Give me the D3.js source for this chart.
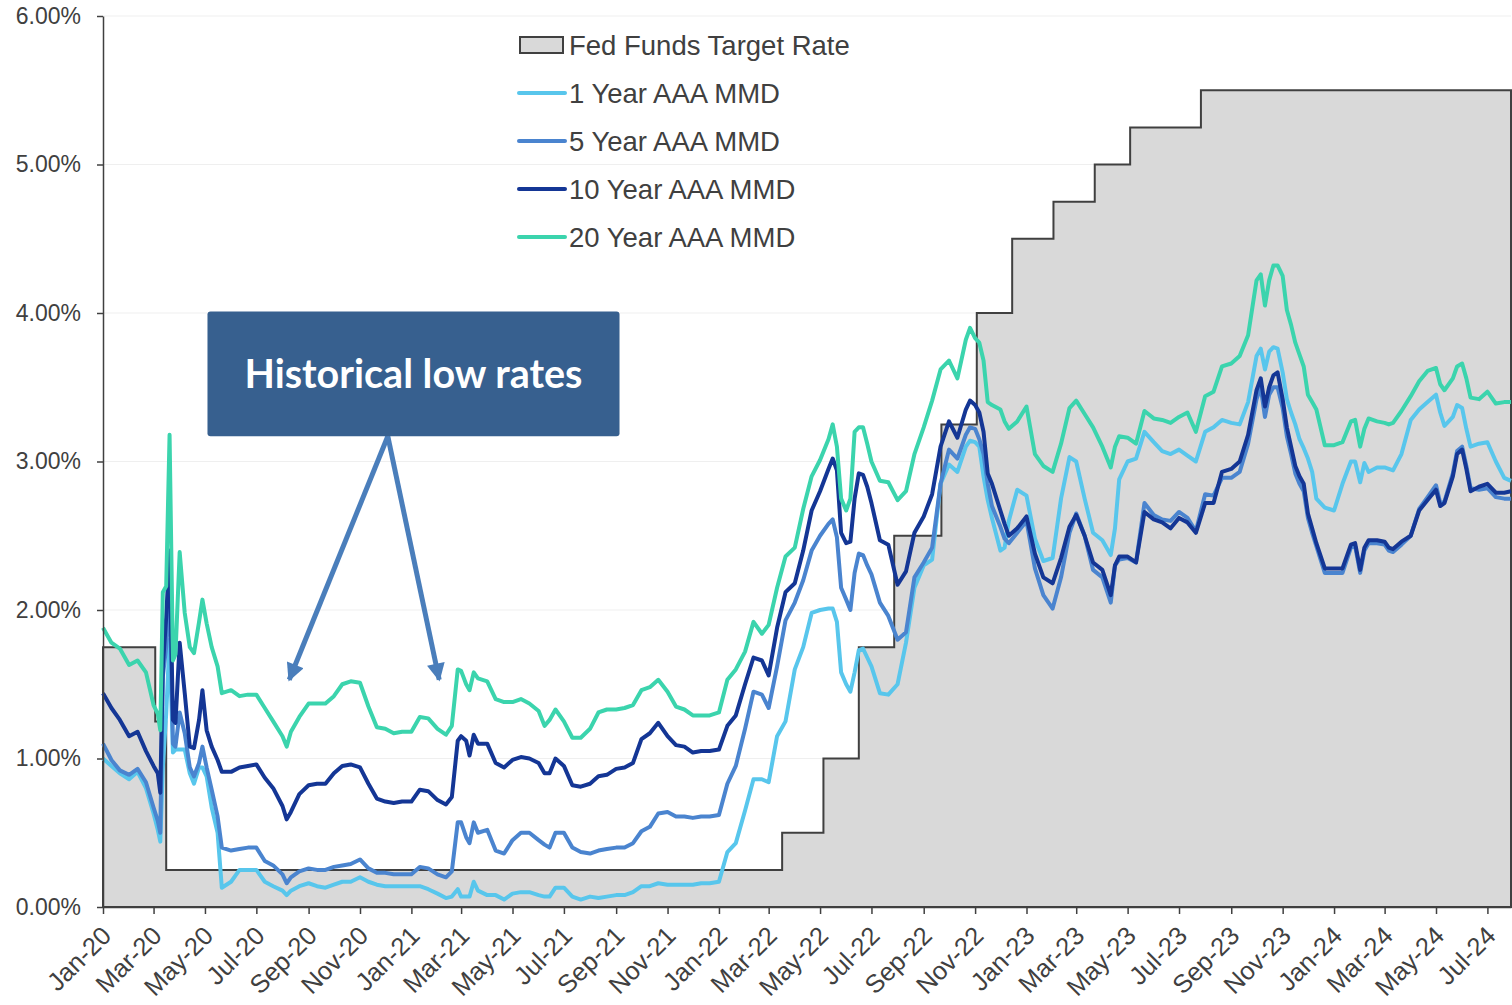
<!DOCTYPE html>
<html>
<head>
<meta charset="utf-8">
<script src="https://cdn.jsdelivr.net/npm/d3@7"></script>
<style>
  body { margin: 0; background: #fff; }
  svg text { font-family: "Liberation Sans", Arial, sans-serif; fill: #404040; }
</style>
</head>
<body>
<svg id="chart"></svg>
<script>
// observation dates shared by the four MMD curves
const dates = [
  "2020-01-01","2020-01-11","2020-01-21","2020-02-01","2020-02-11","2020-02-21","2020-03-01","2020-03-06","2020-03-09","2020-03-12",
  "2020-03-16","2020-03-20","2020-03-24","2020-03-27","2020-04-01","2020-04-07","2020-04-13","2020-04-18","2020-04-24","2020-04-28",
  "2020-05-03","2020-05-09","2020-05-16","2020-05-21","2020-06-01","2020-06-11","2020-06-21","2020-07-01","2020-07-11","2020-07-21",
  "2020-08-01","2020-08-06","2020-08-11","2020-08-21","2020-09-01","2020-09-11","2020-09-21","2020-10-01","2020-10-11","2020-10-21",
  "2020-11-01","2020-11-11","2020-11-21","2020-12-01","2020-12-11","2020-12-21",
  "2021-01-01","2021-01-11","2021-01-21","2021-02-01","2021-02-11","2021-02-18","2021-02-25","2021-03-01","2021-03-07","2021-03-11",
  "2021-03-16","2021-03-21","2021-04-01","2021-04-11","2021-04-21","2021-05-01","2021-05-11","2021-05-21","2021-06-01","2021-06-08",
  "2021-06-14","2021-06-21","2021-07-01","2021-07-11","2021-07-21","2021-08-01","2021-08-11","2021-08-21","2021-09-01","2021-09-11",
  "2021-09-21","2021-10-01","2021-10-11","2021-10-21","2021-11-01","2021-11-11","2021-11-21","2021-12-01","2021-12-11","2021-12-21",
  "2022-01-01","2022-01-11","2022-01-21","2022-02-01","2022-02-11","2022-02-21","2022-03-01","2022-03-11","2022-03-21","2022-04-01",
  "2022-04-11","2022-04-21","2022-05-01","2022-05-11","2022-05-16","2022-05-21","2022-05-26","2022-06-01","2022-06-06","2022-06-11",
  "2022-06-16","2022-06-21","2022-06-26","2022-07-01","2022-07-11","2022-07-21","2022-08-01","2022-08-11","2022-08-21","2022-09-01",
  "2022-09-11","2022-09-21","2022-10-01","2022-10-11","2022-10-21","2022-10-26","2022-11-01","2022-11-06","2022-11-11","2022-11-16",
  "2022-11-21","2022-12-01","2022-12-06","2022-12-11","2022-12-21",
  "2023-01-01","2023-01-11","2023-01-21","2023-02-01","2023-02-11","2023-02-21","2023-03-01","2023-03-11","2023-03-21","2023-04-01",
  "2023-04-11","2023-04-16","2023-04-21","2023-05-01","2023-05-11","2023-05-21","2023-06-01","2023-06-11","2023-06-21","2023-07-01",
  "2023-07-11","2023-07-21","2023-08-01","2023-08-11","2023-08-21","2023-09-01","2023-09-11","2023-09-21","2023-10-01","2023-10-06",
  "2023-10-11","2023-10-16","2023-10-21","2023-10-26","2023-11-01","2023-11-06","2023-11-11","2023-11-16","2023-11-21","2023-11-26",
  "2023-12-01","2023-12-06","2023-12-11","2023-12-21",
  "2024-01-01","2024-01-11","2024-01-21","2024-01-26","2024-02-01","2024-02-06","2024-02-11","2024-02-21","2024-03-01","2024-03-06",
  "2024-03-11","2024-03-21","2024-04-01","2024-04-11","2024-04-21","2024-05-01","2024-05-06","2024-05-11","2024-05-21","2024-05-26",
  "2024-06-01","2024-06-06","2024-06-11","2024-06-21","2024-07-01","2024-07-11","2024-07-21","2024-07-29"
];

// yields in percent, one value per date above
const mmd1y = [
  1.00,0.95,0.90,0.86,0.91,0.80,0.63,0.52,0.44,0.94,1.30,1.80,1.04,1.06,1.06,1.06,0.90,0.83,0.94,0.94,
  0.88,0.67,0.50,0.13,0.17,0.25,0.25,0.25,0.17,0.14,0.11,0.08,0.11,0.14,0.16,0.14,0.13,0.15,0.17,0.17,
  0.20,0.17,0.15,0.14,0.14,0.14,
  0.14,0.14,0.12,0.09,0.06,0.07,0.12,0.07,0.07,0.07,0.17,0.11,0.08,0.08,0.05,0.09,0.10,0.10,0.08,0.07,
  0.07,0.13,0.13,0.07,0.05,0.07,0.06,0.07,0.08,0.08,0.10,0.14,0.14,0.16,0.15,0.15,0.15,0.15,0.16,0.16,
  0.17,0.37,0.43,0.65,0.86,0.86,0.84,1.15,1.25,1.60,1.75,1.98,2.00,2.01,2.01,1.92,1.58,1.50,1.45,1.58,
  1.73,1.74,1.68,1.62,1.44,1.43,1.50,1.78,2.15,2.30,2.34,2.85,2.98,2.93,3.10,3.14,3.13,3.10,2.90,2.74,
  2.62,2.40,2.42,2.60,2.81,
  2.77,2.48,2.33,2.35,2.75,3.03,3.00,2.75,2.52,2.47,2.37,2.55,2.88,3.00,3.02,3.20,3.13,3.07,3.05,3.08,
  3.04,3.00,3.20,3.23,3.28,3.26,3.25,3.40,3.71,3.76,3.62,3.74,3.77,3.76,3.60,3.42,3.33,3.25,3.15,3.09,
  3.02,2.93,2.75,2.69,
  2.67,2.85,3.00,3.00,2.86,2.99,2.93,2.96,2.96,2.95,2.94,3.05,3.28,3.35,3.40,3.45,3.33,3.24,3.30,3.38,
  3.36,3.22,3.10,3.12,3.13,3.00,2.89,2.87
];

const mmd5y = [
  1.10,0.99,0.92,0.89,0.93,0.84,0.67,0.58,0.50,1.55,1.75,2.22,1.10,1.08,1.31,1.17,0.94,0.88,0.97,1.08,
  0.94,0.79,0.61,0.40,0.38,0.39,0.40,0.40,0.31,0.28,0.22,0.16,0.20,0.24,0.26,0.25,0.25,0.27,0.28,0.29,
  0.32,0.26,0.23,0.23,0.22,0.22,
  0.22,0.27,0.26,0.22,0.20,0.24,0.57,0.57,0.47,0.43,0.57,0.50,0.52,0.38,0.36,0.45,0.50,0.50,0.45,0.42,
  0.40,0.50,0.50,0.40,0.37,0.36,0.38,0.39,0.40,0.40,0.43,0.51,0.54,0.63,0.64,0.61,0.61,0.60,0.61,0.61,
  0.62,0.83,0.95,1.20,1.45,1.43,1.34,1.62,1.93,2.05,2.20,2.40,2.50,2.58,2.61,2.49,2.15,2.07,2.00,2.25,
  2.38,2.37,2.30,2.24,2.05,1.96,1.80,1.85,2.22,2.32,2.42,2.85,3.08,3.02,3.18,3.23,3.22,3.15,3.05,2.85,
  2.70,2.56,2.48,2.45,2.52,
  2.60,2.28,2.10,2.01,2.22,2.52,2.65,2.50,2.27,2.22,2.05,2.30,2.34,2.35,2.32,2.72,2.64,2.61,2.60,2.66,
  2.62,2.53,2.78,2.77,2.89,2.89,2.93,3.12,3.42,3.50,3.30,3.45,3.50,3.50,3.36,3.17,3.05,2.92,2.85,2.80,
  2.62,2.52,2.43,2.25,
  2.25,2.25,2.42,2.43,2.25,2.40,2.45,2.45,2.44,2.40,2.39,2.44,2.50,2.68,2.76,2.84,2.72,2.73,2.92,3.07,
  3.10,2.97,2.82,2.81,2.82,2.76,2.75,2.75
];

const mmd10y = [
  1.44,1.34,1.26,1.15,1.18,1.05,0.95,0.90,0.77,1.62,1.95,2.40,1.26,1.24,1.78,1.44,1.08,1.07,1.26,1.46,
  1.19,1.08,0.99,0.91,0.91,0.94,0.95,0.96,0.87,0.80,0.68,0.59,0.64,0.76,0.82,0.83,0.83,0.90,0.95,0.96,
  0.94,0.83,0.73,0.71,0.70,0.71,
  0.71,0.79,0.78,0.72,0.69,0.74,1.12,1.15,1.12,1.02,1.16,1.10,1.10,0.97,0.94,0.99,1.01,1.00,0.97,0.90,
  0.90,1.00,0.95,0.82,0.81,0.83,0.88,0.89,0.93,0.94,0.97,1.13,1.17,1.24,1.15,1.09,1.08,1.04,1.05,1.05,
  1.06,1.22,1.29,1.50,1.68,1.66,1.56,1.88,2.12,2.18,2.40,2.67,2.80,2.95,3.02,2.94,2.52,2.45,2.46,2.75,
  2.92,2.91,2.83,2.72,2.47,2.44,2.17,2.26,2.52,2.63,2.78,3.10,3.27,3.16,3.35,3.41,3.38,3.33,3.20,2.92,
  2.85,2.67,2.58,2.50,2.55,
  2.63,2.38,2.22,2.18,2.35,2.56,2.64,2.50,2.32,2.27,2.10,2.30,2.36,2.36,2.32,2.66,2.61,2.59,2.55,2.62,
  2.59,2.52,2.72,2.72,2.93,2.95,3.00,3.18,3.48,3.56,3.37,3.50,3.58,3.60,3.42,3.23,3.10,2.97,2.90,2.85,
  2.65,2.55,2.45,2.28,
  2.28,2.28,2.44,2.45,2.27,2.42,2.47,2.47,2.46,2.42,2.41,2.46,2.50,2.67,2.74,2.81,2.70,2.72,2.90,3.05,
  3.08,2.95,2.80,2.83,2.85,2.79,2.79,2.80
];

const mmd20y = [
  1.88,1.78,1.74,1.63,1.66,1.58,1.36,1.30,1.19,2.12,2.16,3.18,1.66,1.70,2.39,1.98,1.75,1.71,1.92,2.07,
  1.91,1.75,1.62,1.44,1.46,1.42,1.43,1.43,1.34,1.25,1.15,1.08,1.18,1.28,1.37,1.37,1.37,1.42,1.50,1.52,
  1.51,1.35,1.21,1.20,1.17,1.18,
  1.18,1.28,1.27,1.20,1.16,1.22,1.60,1.59,1.50,1.46,1.58,1.54,1.52,1.40,1.38,1.38,1.40,1.37,1.32,1.22,
  1.26,1.33,1.25,1.14,1.14,1.20,1.31,1.33,1.33,1.34,1.36,1.46,1.48,1.53,1.45,1.35,1.33,1.29,1.29,1.29,
  1.31,1.53,1.60,1.72,1.92,1.84,1.90,2.15,2.36,2.42,2.68,2.90,3.01,3.15,3.25,3.10,2.75,2.67,2.75,3.20,
  3.23,3.23,3.12,3.00,2.87,2.86,2.74,2.80,3.05,3.23,3.41,3.62,3.68,3.56,3.82,3.90,3.83,3.80,3.68,3.40,
  3.38,3.35,3.27,3.22,3.27,
  3.37,3.05,2.97,2.93,3.12,3.36,3.41,3.32,3.23,3.10,2.96,3.10,3.17,3.16,3.12,3.34,3.29,3.28,3.26,3.30,
  3.33,3.20,3.44,3.47,3.64,3.66,3.71,3.85,4.22,4.26,4.05,4.22,4.32,4.32,4.25,4.02,3.92,3.80,3.72,3.64,
  3.45,3.40,3.35,3.11,
  3.11,3.13,3.27,3.28,3.10,3.22,3.29,3.27,3.26,3.25,3.26,3.34,3.44,3.54,3.61,3.63,3.52,3.48,3.56,3.64,
  3.66,3.56,3.43,3.42,3.47,3.39,3.40,3.40
];

// fed funds target (upper bound), each value holds until the next date
const fedDates = [
  "2020-01-01","2020-03-03","2020-03-16","2022-03-17","2022-05-05","2022-06-16","2022-07-28",
  "2022-09-22","2022-11-03","2022-12-15","2023-02-02","2023-03-23","2023-05-04","2023-07-27","2024-07-29"
];
const fedRate = [1.75, 1.25, 0.25, 0.50, 1.00, 1.75, 2.50, 3.25, 4.00, 4.50, 4.75, 5.00, 5.25, 5.50, 5.50];

const yTicks = [0, 1, 2, 3, 4, 5, 6];

const seriesNames = ["1 Year AAA MMD", "5 Year AAA MMD", "10 Year AAA MMD", "20 Year AAA MMD"];
const seriesValues = [mmd1y, mmd5y, mmd10y, mmd20y];
const seriesColors = ["#58c6ec", "#4a84cf", "#143695", "#3bd4ad"];

// callout box and the two points its arrows reach for
const calloutText = "Historical low rates";
const calloutSpan = ["2020-05-04", "2021-09-05"];
const calloutRange = [4.01, 3.17];
const arrowFrom = ["2020-12-04", 3.17];
const arrowTargets = [["2020-08-09", 1.53], ["2021-02-03", 1.53]];

const width = 1512;
const height = 1005;
const parse = d3.timeParse("%Y-%m-%d");

const svg = d3.select("#chart")
  .attr("width", width)
  .attr("height", height);

const x = d3.scaleTime()
  .domain([parse(dates[0]), parse(dates[dates.length - 1])])
  .range([103, 1511]);

const y = d3.scaleLinear()
  .domain([0, 6])
  .range([907, 16]);

// faint horizontal gridlines
svg.append("g")
  .selectAll("line")
  .data(yTicks.slice(1))
  .join("line")
  .attr("x1", x.range()[0])
  .attr("x2", x.range()[1])
  .attr("y1", d => y(d))
  .attr("y2", d => y(d))
  .attr("stroke", "#efefef")
  .attr("stroke-width", 1);

// fed funds step area
const fed = fedDates.map((d, i) => ({ date: parse(d), value: fedRate[i] }));
const fedArea = d3.area()
  .curve(d3.curveStepAfter)
  .x(d => x(d.date))
  .y0(y(0))
  .y1(d => y(d.value));

svg.append("path")
  .datum(fed)
  .attr("d", fedArea)
  .attr("fill", "#d9d9d9")
  .attr("stroke", "#404040")
  .attr("stroke-width", 2);

// MMD lines
const parsedDates = dates.map(parse);
const line = d3.line()
  .x((d, i) => x(parsedDates[i]))
  .y(d => y(d));

svg.append("g")
  .selectAll("path")
  .data(seriesValues)
  .join("path")
  .attr("d", line)
  .attr("fill", "none")
  .attr("stroke", (d, i) => seriesColors[i])
  .attr("stroke-width", 4)
  .attr("stroke-linejoin", "round");

// axes
const yAxis = svg.append("g")
  .attr("transform", `translate(${x.range()[0]},0)`)
  .call(d3.axisLeft(y)
    .tickValues(yTicks)
    .tickFormat(d => d.toFixed(2) + "%")
    .tickSize(6)
    .tickSizeOuter(0)
    .tickPadding(16));

const xAxis = svg.append("g")
  .attr("transform", `translate(0,${y(0)})`)
  .call(d3.axisBottom(x)
    .ticks(d3.timeMonth.every(2))
    .tickFormat(d3.timeFormat("%b-%y"))
    .tickSize(7)
    .tickSizeOuter(0));

[yAxis, xAxis].forEach(g => {
  g.selectAll("path, line").attr("stroke", "#404040").attr("stroke-width", 1.5);
  g.selectAll("text").attr("fill", "#404040");
});
yAxis.selectAll("text").attr("font-size", 23);

xAxis.selectAll("text")
  .attr("font-size", 25.5)
  .attr("text-anchor", "end")
  .attr("x", 0)
  .attr("y", 0)
  .attr("dy", "0.35em")
  .attr("transform", "translate(3,24) rotate(-45)");

// callout
const defs = svg.append("defs");
defs.append("marker")
  .attr("id", "arrowhead")
  .attr("viewBox", "0 0 10 10")
  .attr("refX", 9)
  .attr("refY", 5)
  .attr("markerUnits", "userSpaceOnUse")
  .attr("markerWidth", 20)
  .attr("markerHeight", 18)
  .attr("orient", "auto")
  .append("path")
  .attr("d", "M0,0 L10,5 L0,10 Z")
  .attr("fill", "#4a7ebb");

svg.append("g")
  .selectAll("line")
  .data(arrowTargets)
  .join("line")
  .attr("x1", x(parse(arrowFrom[0])))
  .attr("y1", y(arrowFrom[1]))
  .attr("x2", d => x(parse(d[0])))
  .attr("y2", d => y(d[1]))
  .attr("stroke", "#4a7ebb")
  .attr("stroke-width", 5)
  .attr("marker-end", "url(#arrowhead)");

const boxX0 = x(parse(calloutSpan[0]));
const boxX1 = x(parse(calloutSpan[1]));
svg.append("rect")
  .attr("x", boxX0)
  .attr("y", y(calloutRange[0]))
  .attr("width", boxX1 - boxX0)
  .attr("height", y(calloutRange[1]) - y(calloutRange[0]))
  .attr("rx", 3)
  .attr("fill", "#37608f");

svg.append("text")
  .attr("x", (boxX0 + boxX1) / 2)
  .attr("y", (y(calloutRange[0]) + y(calloutRange[1])) / 2)
  .attr("dy", "0.35em")
  .attr("text-anchor", "middle")
  .style("font-family", "Lato, 'Open Sans', sans-serif")
  .style("font-weight", 700)
  .style("font-size", "39.5px")
  .style("fill", "#ffffff")
  .text(calloutText);

// legend
const legend = svg.append("g").attr("transform", "translate(519,45)");
const legendRows = [{ name: "Fed Funds Target Rate", color: null }]
  .concat(seriesNames.map((n, i) => ({ name: n, color: seriesColors[i] })));

legendRows.forEach((row, i) => {
  const g = legend.append("g").attr("transform", `translate(0,${i * 48})`);
  if (row.color === null) {
    g.append("rect")
      .attr("x", 1).attr("y", -8)
      .attr("width", 43).attr("height", 16)
      .attr("fill", "#d9d9d9")
      .attr("stroke", "#404040")
      .attr("stroke-width", 2);
  } else {
    g.append("line")
      .attr("x1", 0).attr("x2", 46)
      .attr("stroke", row.color)
      .attr("stroke-width", 4)
      .attr("stroke-linecap", "round");
  }
  g.append("text")
    .attr("x", 50)
    .attr("dy", "0.36em")
    .attr("font-size", 27.5)
    .text(row.name);
});
</script>
</body>
</html>
